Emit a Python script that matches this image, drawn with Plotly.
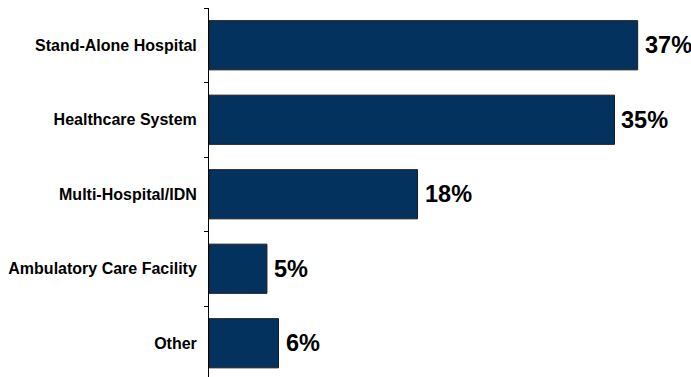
import plotly.graph_objects as go

categories = ["Stand-Alone Hospital", "Healthcare System", "Multi-Hospital/IDN",
              "Ambulatory Care Facility", "Other"]
shares = [37, 35, 18, 5, 6]
value_labels = ["37%", "35%", "18%", "5%", "6%"]

fig = go.Figure(go.Bar(
    x=shares,
    y=categories,
    orientation="h",
    width=0.66,
    marker=dict(color="#04325F", line=dict(color="#1a1a1a", width=1)),
    cliponaxis=False,
))

# value labels placed just past each bar's end
for cat, val, lab in zip(categories, shares, value_labels):
    fig.add_annotation(
        x=val, y=cat, text=lab, showarrow=False,
        xanchor="left", yanchor="middle", xshift=5,
        font=dict(family="Liberation Sans, Arial", size=23.5, color="#000000", weight="bold"),
    )

fig.update_layout(
    width=691,
    height=377,
    margin=dict(l=209, r=7, t=8, b=0),
    paper_bgcolor="#ffffff",
    plot_bgcolor="#ffffff",
    showlegend=False,
    font=dict(family="Liberation Sans, Arial", color="#000000"),
)

fig.update_xaxes(range=[0, 41], visible=False, showgrid=False, zeroline=False)
fig.update_yaxes(
    type="category",
    categoryorder="array",
    categoryarray=categories,
    range=[4.453, -0.5],
    showline=True,
    linecolor="#000000",
    linewidth=1,
    ticks="outside",
    tickson="boundaries",
    ticklen=4,
    tickcolor="#000000",
    tickwidth=1,
    ticklabelstandoff=8,
    tickfont=dict(family="Liberation Sans, Arial", size=16, color="#000000", weight="bold"),
    showgrid=False,
    zeroline=False,
)

fig.write_html("out.html")
